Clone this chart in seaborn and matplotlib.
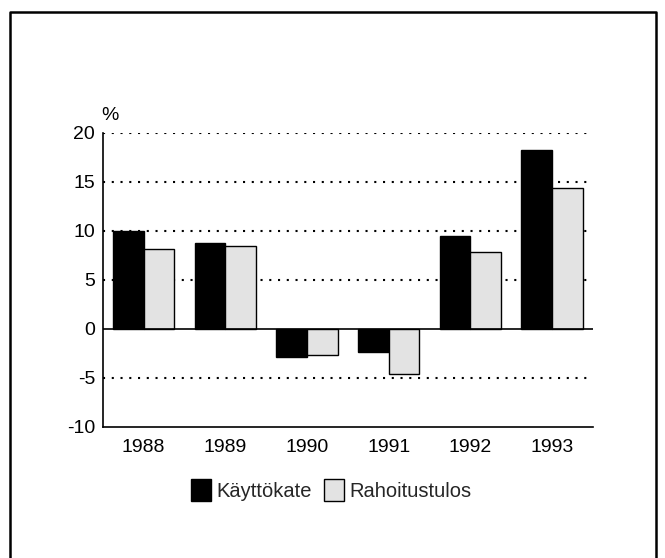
import pandas as pd
import matplotlib
matplotlib.use("Agg")
import matplotlib.pyplot as plt
from matplotlib.lines import Line2D
from matplotlib.patches import Patch
import seaborn as sns

# Data
years = ["1988", "1989", "1990", "1991", "1992", "1993"]
kayttokate = [10.0, 8.7, -2.9, -2.4, 9.5, 18.2]
rahoitustulos = [8.1, 8.4, -2.7, -4.6, 7.8, 14.4]
series_names = ["Käyttökate", "Rahoitustulos"]
y_ticks = [-10, -5, 0, 5, 10, 15, 20]
grid_levels = [-5, 5, 10, 15, 20]

df = pd.DataFrame({
    "year": years * 2,
    "value": kayttokate + rahoitustulos,
    "series": [series_names[0]] * len(years) + [series_names[1]] * len(years),
})

sns.set_theme(style="white")
plt.rcParams["font.family"] = ["Liberation Sans", "DejaVu Sans"]

W, H = 665, 558
fig = plt.figure(figsize=(W / 100, H / 100), dpi=100)
fig.patch.set_facecolor("white")

# axes placed in pixel terms
x0, x1 = 102.7, 593
y_top, y_bot = 132.7, 426.5
ax = fig.add_axes([x0 / W, 1 - y_bot / H, (x1 - x0) / W, (y_bot - y_top) / H])

palette = {series_names[0]: "black", series_names[1]: "#e3e3e3"}
sns.barplot(data=df, x="year", y="value", hue="series", palette=palette,
            width=0.75, gap=0, edgecolor="black", linewidth=1.0,
            saturation=1, legend=False, ax=ax)

ax.set_ylim(-10, 20)
ax.set_xlim(-0.5, len(years) - 0.5)
ax.set_yticks(y_ticks)
ax.set_yticklabels([str(t) for t in y_ticks])
ax.set_xlabel("")
ax.set_ylabel("")

for lvl in grid_levels:
    ax.axhline(lvl, color="black", lw=1.5, linestyle=(0, (1, 3.2)), zorder=0)
ax.axhline(0, color="black", lw=1.2, zorder=3)

for side in ["top", "right"]:
    ax.spines[side].set_visible(False)
for side in ["left", "bottom"]:
    ax.spines[side].set_color("black")
    ax.spines[side].set_linewidth(1.2)

ax.tick_params(axis="y", length=3, width=1, color="black", pad=2.5, labelsize=14, colors="black")
ax.tick_params(axis="x", length=0, pad=9, labelsize=14, colors="black")

fig.text(110 / W, 1 - 115 / H, "%", ha="center", va="center", fontsize=14, color="black")

handles = [Patch(facecolor=palette[n], edgecolor="black", linewidth=1.0, label=n) for n in series_names]
fig.legend(handles=handles, loc="center", bbox_to_anchor=(331 / W, 1 - 490 / H), ncol=2,
           frameon=False, fontsize=14.5, handlelength=1.0, handleheight=1.3,
           handletextpad=0.25, columnspacing=0.6)

# outer border (left, top, right)
bl, bt, br = 10 / W, 1 - 11.7 / H, 656 / W
fig.add_artist(Line2D([bl, bl, br, br], [0, bt, bt, 0], transform=fig.transFigure,
                      color="black", lw=1.8))

fig.savefig("out.png", dpi=100, facecolor="white")
